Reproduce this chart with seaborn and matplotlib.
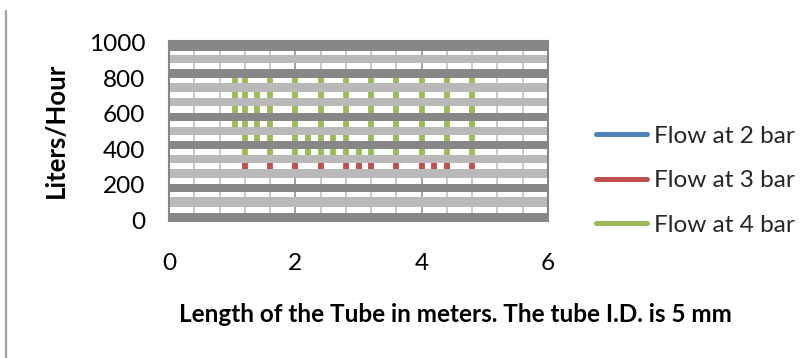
import numpy as np
import pandas as pd
import seaborn as sns
import matplotlib
matplotlib.use("Agg")
import matplotlib.pyplot as plt
from matplotlib.lines import Line2D

# ---------------- data ----------------
series_names = ["Flow at 2 bar", "Flow at 3 bar", "Flow at 4 bar"]

# Flow at 2 bar: segments (hidden behind the dark grid band)
x_2bar = [1.2, 1.6, 2.0, 2.4, 2.8, 3.0, 3.2, 3.6, 4.0, 4.2, 4.4, 4.8]
lo_2bar = [168, 168, 168, 168, 168, 168, 168, 168, 168, 168, 168, 168]
hi_2bar = [192, 192, 192, 192, 192, 192, 192, 192, 192, 192, 192, 192]

# Flow at 3 bar
x_3bar = [1.2, 1.6, 2.0, 2.4, 2.8, 3.0, 3.2, 3.6, 4.0, 4.2, 4.4, 4.8]
lo_3bar = [262, 262, 262, 262, 262, 262, 262, 262, 262, 262, 262, 262]
hi_3bar = [335, 335, 335, 335, 335, 335, 335, 335, 335, 335, 335, 335]

# Flow at 4 bar
x_4bar = [1.05, 1.2, 1.4, 1.6, 2.0, 2.2, 2.4, 2.6, 2.8, 3.0, 3.2, 3.6, 4.0, 4.4, 4.8]
lo_4bar = [503, 345, 424, 345, 345, 345, 345, 345, 345, 345, 345, 345, 345, 345, 345]
hi_4bar = [830, 830, 748, 830, 830, 503, 830, 503, 830, 424, 830, 830, 830, 830, 830]

x_ticks = [0, 2, 4, 6]
y_ticks = [0, 200, 400, 600, 800, 1000]

x_label = "Length of the Tube in meters. The tube I.D. is 5 mm"
y_label = "Liters/Hour"

# ---------------- long-form table ----------------
rows = []
seg = 0
for name, xs, los, his in [
    (series_names[0], x_2bar, lo_2bar, hi_2bar),
    (series_names[1], x_3bar, lo_3bar, hi_3bar),
    (series_names[2], x_4bar, lo_4bar, hi_4bar),
]:
    for xv, lo, hi in zip(xs, los, his):
        rows.append({"length": xv, "flow": lo, "series": name, "seg": seg})
        rows.append({"length": xv, "flow": hi, "series": name, "seg": seg})
        seg += 1
df = pd.DataFrame(rows)

# ---------------- style ----------------
sns.set_theme(style="white")
plt.rcParams["font.family"] = ["Lato", "DejaVu Sans"]

palette = {"Flow at 2 bar": "#4F81BD", "Flow at 3 bar": "#C0504D", "Flow at 4 bar": "#9BBB59"}
DARK = "#878787"
LIGHT = "#B9B9B9"
FS = 17.6
FS_LAB = 17.5
FS_YLAB = 18.5

fig = plt.figure(figsize=(8.1, 3.58), dpi=100)
W, H = 810, 358
ax = fig.add_axes([169 / W, 1 - 221 / H, 379 / W, 180 / H])

sns.lineplot(data=df, x="length", y="flow", hue="series", units="seg",
             estimator=None, sort=False, palette=palette, hue_order=series_names,
             linewidth=4.2, solid_capstyle="butt", ax=ax, legend=False, zorder=2)

ax.set_xlim(0, 6)
ax.set_ylim(-5, 1010)

# vertical minor grid
for xv in np.arange(0.4, 6.0, 0.4):
    col = DARK if abs(xv - 2) < 1e-6 or abs(xv - 4) < 1e-6 else LIGHT
    ax.axvline(xv, color=col, lw=1.1, zorder=1)

# horizontal grid bands (drawn over the data, as in the picture)
dark_bands = [(955, 1015), (803, 850), (561, 606), (399, 446), (157, 203), (-10, 42)]
light_bands = [(884, 931), (724, 772), (644, 687), (480, 527), (320, 367), (239, 287), (76, 129)]
for lo, hi in dark_bands:
    ax.axhspan(lo, hi, color=DARK, lw=0, zorder=3)
for lo, hi in light_bands:
    ax.axhspan(lo, hi, color=LIGHT, lw=0, zorder=3)

for s in ax.spines.values():
    s.set_color(DARK)
    s.set_linewidth(1.5)
    s.set_zorder(4)

ax.set_xticks(x_ticks)
ax.set_yticks(y_ticks)
ax.set_xticklabels([str(v) for v in x_ticks])
ax.set_yticklabels([str(v) for v in y_ticks])
ax.tick_params(axis="x", length=0, pad=23, labelsize=FS, colors="black")
ax.tick_params(axis="y", length=0, pad=17, labelsize=FS, colors="black")

ax.set_xlabel(x_label, fontsize=FS_LAB, fontweight="bold", color="black")
ax.xaxis.set_label_coords(0.757, -0.522)
ax.xaxis.label.set_va("center")
ax.set_ylabel(y_label, fontsize=FS_YLAB, fontweight="bold", color="black")
ax.yaxis.set_label_coords(-0.298, 0.506)
ax.yaxis.label.set_va("center")

handles = [Line2D([0], [0], color=palette[n], lw=3.6) for n in series_names]
fs_px = FS * 100 / 72
ax.legend(handles, series_names, loc="upper left",
          bbox_to_anchor=(596 / W, 1 - (139 - fs_px * 0.55) / H), bbox_transform=fig.transFigure,
          frameon=False, fontsize=FS, handlelength=51 / fs_px,
          handletextpad=7 / fs_px, labelspacing=(48 - fs_px * 1.0) / fs_px,
          borderpad=0, borderaxespad=0)

# left border line of the surrounding frame
fig.add_artist(Line2D([6 / W, 6 / W], [0, 1 - 11 / H], color="#A0A0A0", lw=1.6,
                      transform=fig.transFigure))

fig.savefig("out.png", dpi=100)
